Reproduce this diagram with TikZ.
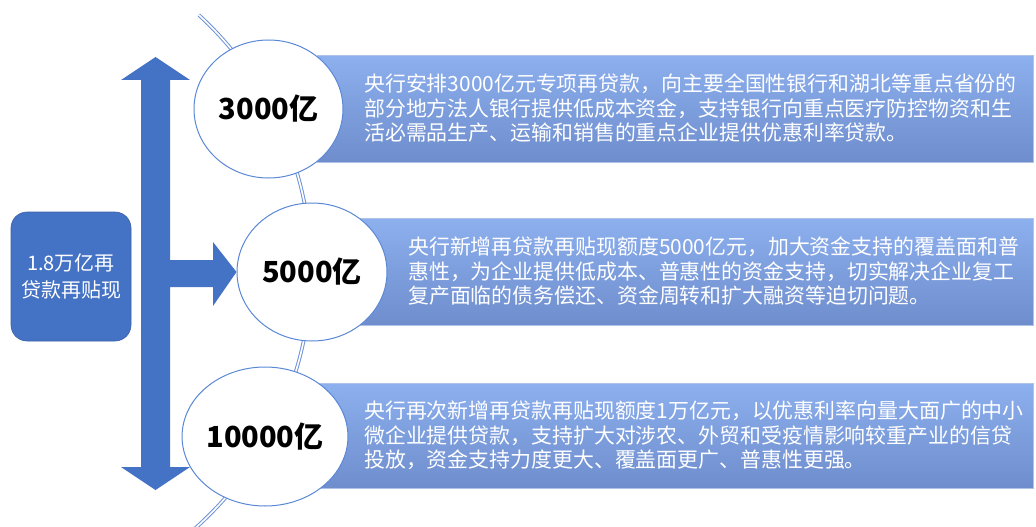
\documentclass[tikz,border=0pt]{standalone}
\usepackage{fontspec}
\setmainfont{Noto Sans CJK SC}
\usetikzlibrary{shapes.geometric}
\definecolor{arrowblue}{HTML}{4472C4}
\definecolor{boxtop}{HTML}{8DB0EF}
\definecolor{boxmid}{HTML}{7D9EDD}
\definecolor{boxbot}{HTML}{6F8DCD}
\definecolor{boxedge}{HTML}{AFC3E6}
\definecolor{ringblue}{HTML}{5B88D6}
\definecolor{arcblue}{HTML}{6F93D6}
\tikzset{
  rootbox/.style={fill=arrowblue, draw=arrowblue!85!black, line width=0.6pt, rounded corners=16pt,
    text=white, align=center, font=\fontsize{20}{27}\selectfont, inner sep=0pt},
  infobox/.style={draw=boxedge, line width=0.8pt, top color=boxtop, bottom color=boxbot, middle color=boxmid,
    anchor=north west, inner sep=0pt},
  desc/.style={text=white, align=left, anchor=west, inner sep=0pt, font=\fontsize{20.9}{24.5}\selectfont},
  bubble/.style={ellipse, draw=ringblue, line width=1pt, fill=white, inner sep=0pt,
    font=\fontsize{29}{34}\selectfont\bfseries, text=black},
  arcline/.style={draw=arcblue, double=white, line width=1pt, double distance=1.6pt},
  bigarrow/.style={fill=arrowblue}
}
\begin{document}
\begin{tikzpicture}[x=1pt,y=-1pt]
\useasboundingbox (0,0) rectangle (1036,527);
% decorative arc
\begin{scope}
\clip (0,0) rectangle (1036,527);
\draw[arcline] plot[domain=-47.5:56, samples=90] ({-35+346*cos(\x)},{270+346*sin(\x)});
\end{scope}
% text bars
\node[infobox, minimum width=716pt, minimum height=107pt] (r1) at (317,55) {};
\node[infobox, minimum width=716pt, minimum height=107pt] (r2) at (317,218) {};
\node[infobox, minimum width=716pt, minimum height=105pt] (r3) at (317,383) {};
\node[desc] (t1) at (364,108.5) {央行安排3000亿元专项再贷款，向主要全国性银行和湖北等重点省份的\\部分地方法人银行提供低成本资金，支持银行向重点医疗防控物资和生\\活必需品生产、运输和销售的重点企业提供优惠利率贷款。};
\node[desc] (t2) at (408,271.5) {央行新增再贷款再贴现额度5000亿元，加大资金支持的覆盖面和普\\惠性，为企业提供低成本、普惠性的资金支持，切实解决企业复工\\复产面临的债务偿还、资金周转和扩大融资等迫切问题。};
\node[desc] (t3) at (364,435.5) {央行再次新增再贷款再贴现额度1万亿元，以优惠利率向量大面广的中小\\微企业提供贷款，支持扩大对涉农、外贸和受疫情影响较重产业的信贷\\投放，资金支持力度更大、覆盖面更广、普惠性更强。};
% circles
\node[bubble, minimum width=149pt, minimum height=138pt] (c1) at (268.5,109) {3000亿};
\node[bubble, minimum width=150pt, minimum height=138pt] (c2) at (312,272) {5000亿};
\node[bubble, minimum width=142pt, minimum height=139pt] (c3) at (265,436.5) {10000亿};
% root box
\node[rootbox, minimum width=120pt, minimum height=129pt] (root) at (71,276.5) {1.8万亿再\\贷款再贴现};
% big double arrow with branch
\coordinate (top) at (155.5,57);
\coordinate (bot) at (155.5,490);
\fill[bigarrow] (top) -- (190,80) -- (170,80) -- (170,260) -- (213,260) -- (213,242)
  -- (c2.west) -- (213,306) -- (213,287) -- (170,287) -- (170,467) -- (190,467)
  -- (bot) -- (121,467) -- (141,467) -- (141,80) -- (121,80) -- cycle;
\end{tikzpicture}
\end{document}
